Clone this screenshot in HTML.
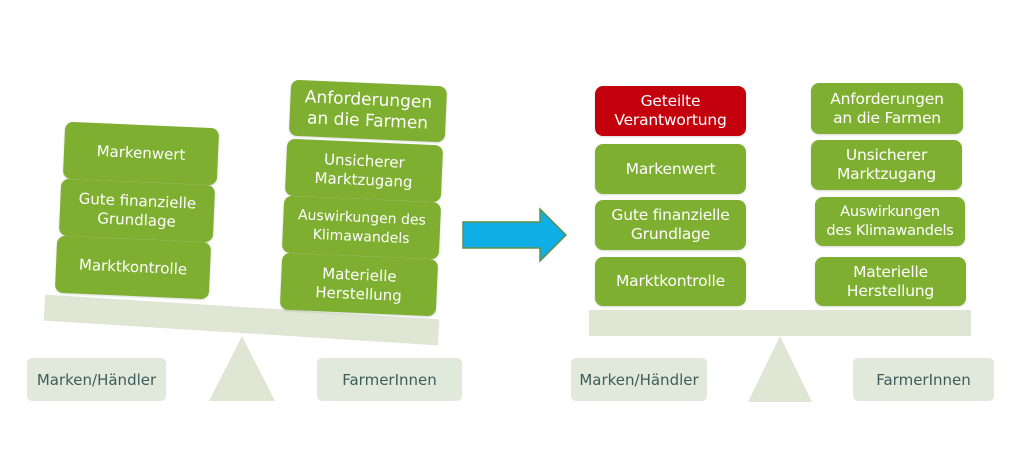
<!DOCTYPE html>
<html><head><meta charset="utf-8"><style>
body{margin:0;width:1024px;height:474px;background:#fff;position:relative;overflow:hidden;font-family:"DejaVu Sans","Liberation Sans",sans-serif}
.b{position:absolute;background:#7faf31;border-radius:8px;color:#fff;font-size:15px;line-height:19px;display:flex;align-items:center;justify-content:center;text-align:center;box-shadow:0 1px 2px rgba(0,0,0,.15);white-space:nowrap}
.r{background:#c4000d}
.l{position:absolute;background:#e1e9da;border-radius:5px;color:#3e5c5c;font-size:15px;display:flex;align-items:center;justify-content:center}
.beam{position:absolute;background:#dfe6d4}
.R{font-size:15.5px;line-height:19px;letter-spacing:-0.2px}
</style></head><body>
<div class="beam" style="left:44px;top:307px;width:395px;height:26px;transform:rotate(3.6deg)"></div>
<svg style="position:absolute;left:0;top:0" width="1024" height="474">
<polygon points="242,336 209,401 275,401" fill="#dfe6d4"/>
<polygon points="780,336 748,402 812,402" fill="#dfe6d4"/>
<polygon points="463,222 540,222 540,209 566,235 540,261 540,248 463,248" fill="#10aee6" stroke="#5e8f48" stroke-width="1.5"/>
</svg>
<div class="b" style="left:64px;top:125px;width:154px;height:57px;transform:rotate(2.5deg)">Markenwert</div>
<div class="b" style="left:60px;top:182px;width:154px;height:57px;transform:rotate(2.5deg)">Gute finanzielle<br>Grundlage</div>
<div class="b" style="left:56px;top:239px;width:154px;height:57px;transform:rotate(2.5deg)">Marktkontrolle</div>
<div class="b" style="left:290px;top:83px;width:156px;height:56px;transform:rotate(2.5deg);font-size:17px;line-height:21px">Anforderungen<br>an die Farmen</div>
<div class="b" style="left:286px;top:142px;width:156px;height:57px;transform:rotate(2.5deg)">Unsicherer<br>Marktzugang</div>
<div class="b" style="left:283px;top:199px;width:157px;height:57px;transform:rotate(2.5deg);font-size:14px">Auswirkungen des<br>Klimawandels</div>
<div class="b" style="left:281px;top:256px;width:156px;height:57px;transform:rotate(2.5deg)">Materielle<br>Herstellung</div>
<div class="l" style="left:27px;top:358px;width:139px;height:43px">Marken/Händler</div>
<div class="l" style="left:317px;top:358px;width:145px;height:43px">FarmerInnen</div>
<div class="beam" style="left:589px;top:310px;width:382px;height:26px"></div>
<div class="b r R" style="left:595px;top:86px;width:151px;height:50px">Geteilte<br>Verantwortung</div>
<div class="b R" style="left:595px;top:144px;width:151px;height:50px">Markenwert</div>
<div class="b R" style="left:595px;top:200px;width:151px;height:50px">Gute finanzielle<br>Grundlage</div>
<div class="b R" style="left:595px;top:257px;width:151px;height:49px">Marktkontrolle</div>
<div class="b R" style="left:811px;top:83px;width:152px;height:51px">Anforderungen<br>an die Farmen</div>
<div class="b R" style="left:811px;top:140px;width:151px;height:50px">Unsicherer<br>Marktzugang</div>
<div class="b R" style="left:815px;top:197px;width:150px;height:49px;font-size:14.5px">Auswirkungen<br>des Klimawandels</div>
<div class="b R" style="left:815px;top:257px;width:151px;height:49px">Materielle<br>Herstellung</div>
<div class="l" style="left:571px;top:358px;width:136px;height:43px">Marken/Händler</div>
<div class="l" style="left:853px;top:358px;width:141px;height:43px">FarmerInnen</div>
</body></html>
